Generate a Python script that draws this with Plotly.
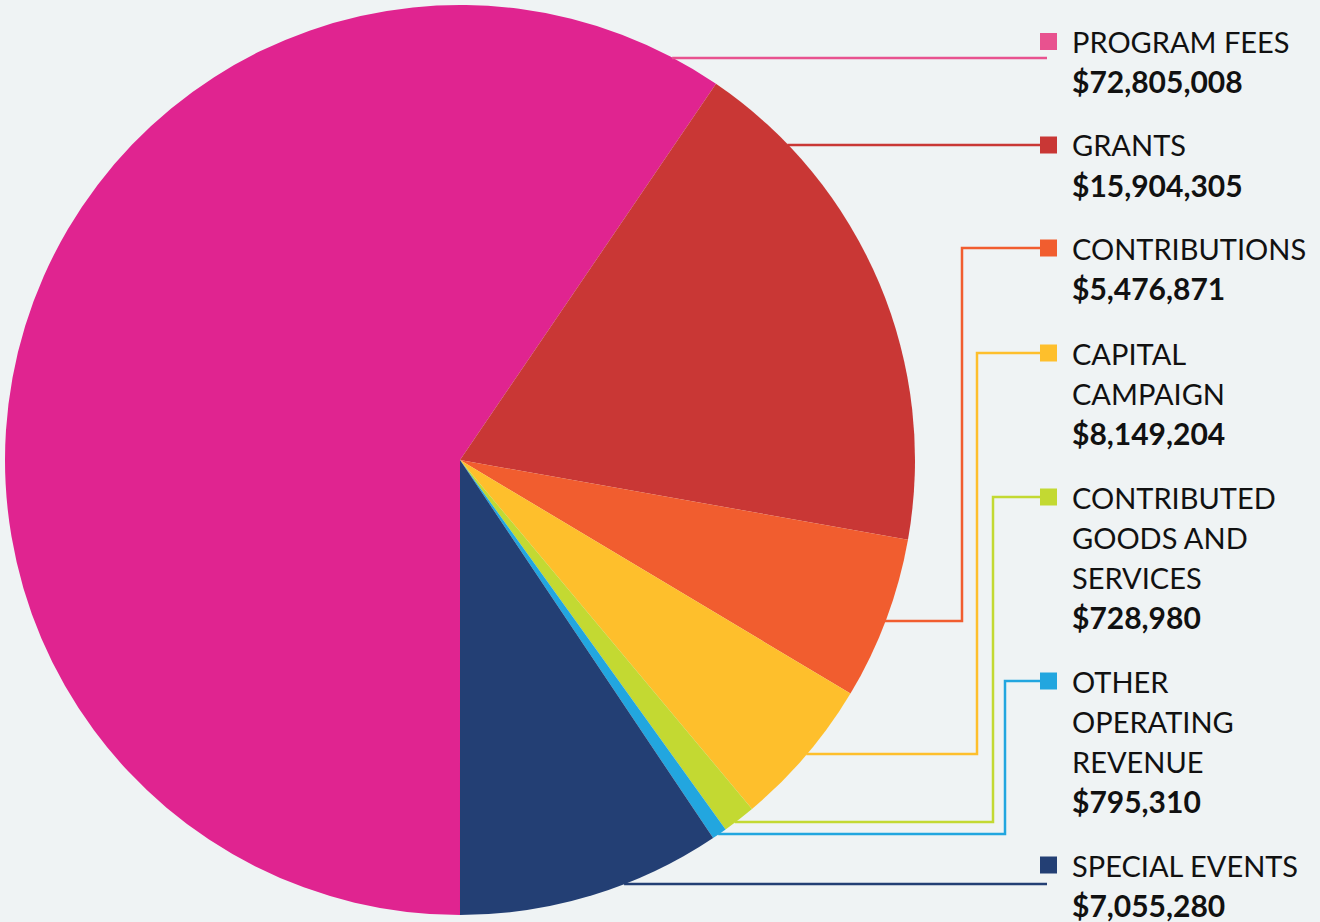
import math
import plotly.graph_objects as go

W, H = 1320, 922

# ---- data (legend order, also clockwise slice order starting at 6 o'clock) ----
categories = ["PROGRAM FEES", "GRANTS", "CONTRIBUTIONS", "CAPITAL CAMPAIGN",
              "CONTRIBUTED GOODS AND SERVICES", "OTHER OPERATING REVENUE", "SPECIAL EVENTS"]
label_lines = [["PROGRAM FEES"], ["GRANTS"], ["CONTRIBUTIONS"], ["CAPITAL", "CAMPAIGN"],
               ["CONTRIBUTED", "GOODS AND", "SERVICES"], ["OTHER", "OPERATING", "REVENUE"],
               ["SPECIAL EVENTS"]]
amounts = [72805008, 15904305, 5476871, 8149204, 728980, 795310, 7055280]
# slice shares (%) as drawn in the reference picture
slice_share_pct = [59.51, 18.29, 5.78, 5.33, 1.17, 0.53, 9.39]
slice_colors = ["#E02490", "#C93735", "#F15D2F", "#FEBF2C", "#C3D932", "#22A6DF", "#233F74"]
key_colors = ["#E8528F", "#C93735", "#F15D2F", "#FEBF2C", "#C3D932", "#22A6DF", "#233F74"]

BG = "#EFF3F4"

# ---- layout geometry (pixels) ----
CX, CY, R = 460, 460, 455
row_y = [41.5, 145, 248, 353, 497, 681, 865]      # first-line centre of each legend entry
leave_y = [58, 145, 621, 754, 822, 834, 884]      # y where leader leaves the pie
elbow_x = [None, None, 962, 977, 993, 1005, None]
end_x = [1047, 1040, 1040, 1040, 1040, 1040, 1047]
SQ_X0, SQ = 1040, 17
TEXT_X = 1070
PITCH = 40


def px(x):
    return x / W


def py(y):
    return 1 - y / H


fig = go.Figure(go.Pie(
    labels=categories,
    values=slice_share_pct,
    sort=False,
    direction="clockwise",
    rotation=180,
    marker=dict(colors=slice_colors, line=dict(width=0)),
    textinfo="none",
    hoverinfo="label",
    domain=dict(x=[px(CX - R), px(CX + R)], y=[py(CY + R), py(CY - R)]),
    showlegend=False,
))

shapes = []
annotations = []
for i in range(len(categories)):
    c = key_colors[i]
    ly = leave_y[i]
    sx = CX + math.sqrt(max(R * R - (ly - CY) ** 2, 0)) - 1
    if elbow_x[i] is None:
        pts = [(sx, ly), (end_x[i], ly)]
    else:
        pts = [(sx, ly), (elbow_x[i], ly), (elbow_x[i], row_y[i]), (end_x[i], row_y[i])]
    path = "M " + " L ".join(f"{px(x)},{py(y)}" for x, y in pts)
    shapes.append(dict(type="path", xref="paper", yref="paper", path=path,
                       line=dict(color=c, width=2.5), layer="above"))
    shapes.append(dict(type="rect", xref="paper", yref="paper",
                       x0=px(SQ_X0), x1=px(SQ_X0 + SQ),
                       y0=py(row_y[i] + SQ / 2), y1=py(row_y[i] - SQ / 2),
                       fillcolor=c, line=dict(width=0), layer="above"))
    lines = label_lines[i]
    for k, t in enumerate(lines):
        annotations.append(dict(x=px(TEXT_X), y=py(row_y[i] + k * PITCH), xref="paper", yref="paper",
                                text=t, showarrow=False, xanchor="left", yanchor="middle",
                                font=dict(family="Lato", size=29, color="#111111")))
    annotations.append(dict(x=px(TEXT_X), y=py(row_y[i] + len(lines) * PITCH), xref="paper", yref="paper",
                            text=f"<b>${amounts[i]:,}</b>", showarrow=False, xanchor="left",
                            yanchor="middle",
                            font=dict(family="Lato", size=30, color="#111111")))

fig.update_layout(
    width=W, height=H,
    margin=dict(l=0, r=0, t=0, b=0),
    paper_bgcolor=BG, plot_bgcolor=BG,
    shapes=shapes, annotations=annotations,
    showlegend=False,
)

fig.write_html("out.html", config={"displayModeBar": False},
               post_script="document.body.style.margin='0';document.body.style.overflow='hidden';")
